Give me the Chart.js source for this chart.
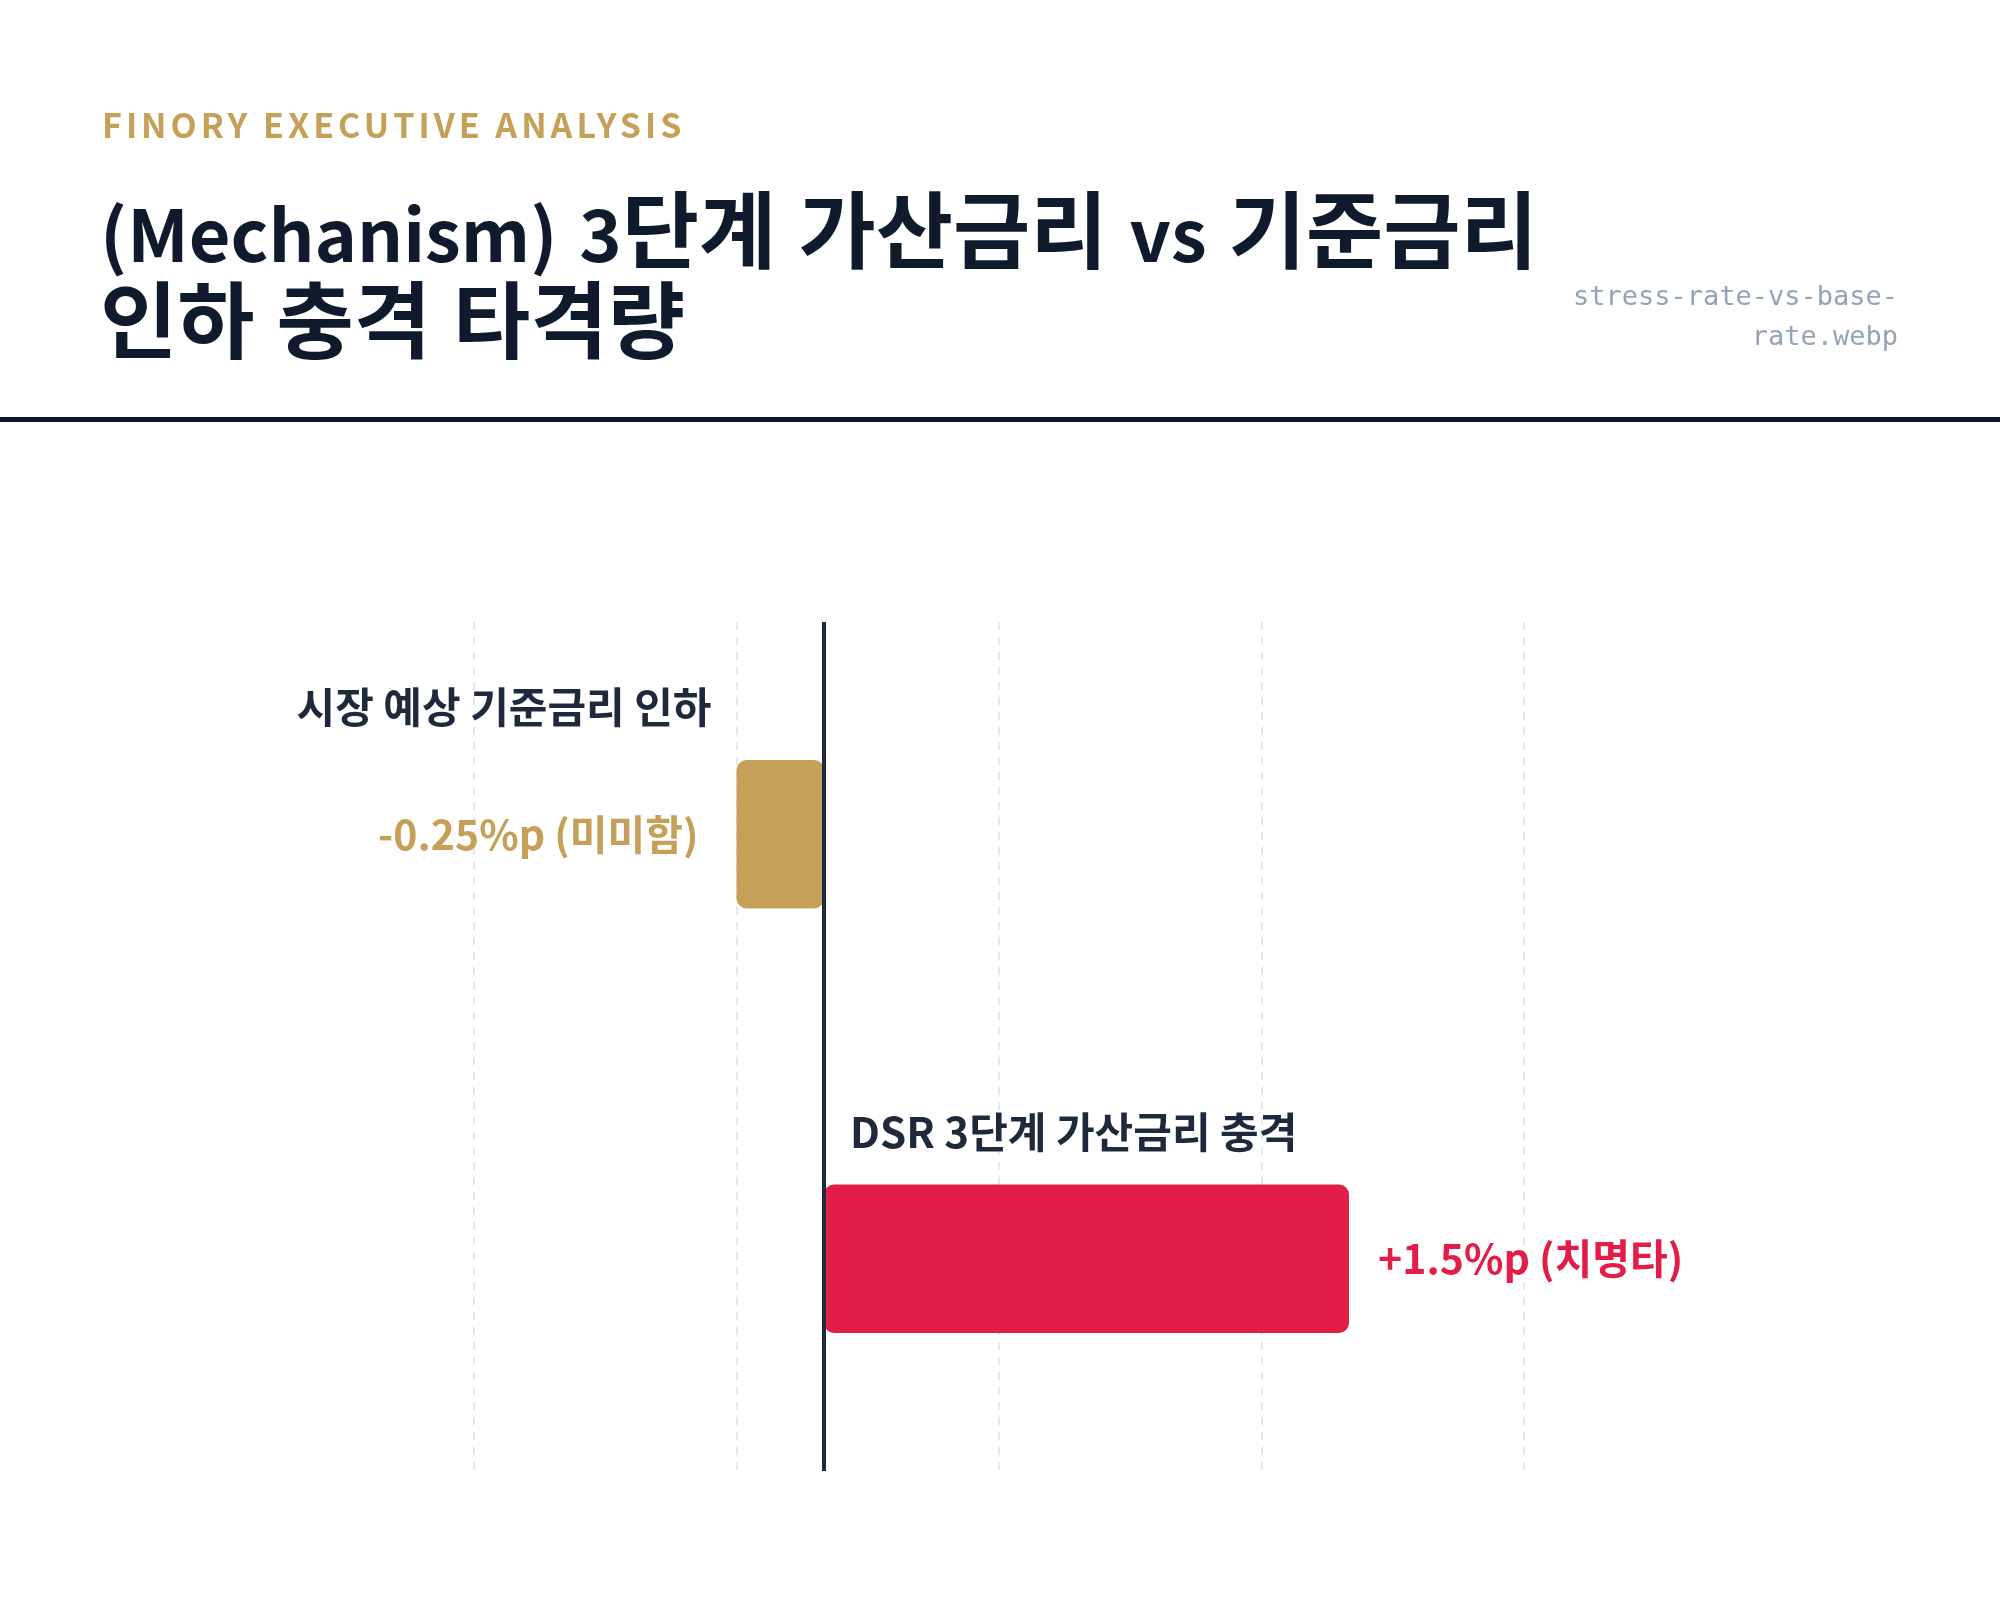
<!DOCTYPE html>
<html>
<head>
<meta charset="utf-8">
<script src="https://cdn.jsdelivr.net/npm/chart.js@4.4.1/dist/chart.umd.min.js"></script>
<style>
  html, body { margin: 0; padding: 0; background: #ffffff; }
  canvas { display: block; }
</style>
</head>
<body>
<canvas id="impactChart" width="2000" height="1622"></canvas>
<script>
// chart data
const categories = ['시장 예상 기준금리 인하', 'DSR 3단계 가산금리 충격'];
const values = [-0.25, 1.5];
const valueLabels = ['-0.25%p (미미함)', '+1.5%p (치명타)'];
const barColors = ['#c5a059', '#e11d48'];
const axisMin = -1;
const axisMax = 2;
const axisStep = 0.75;

const KR = '"Noto Sans CJK KR", "Noto Sans", sans-serif';

// draws hangul runs and latin runs with different sizes (title font has wide hangul)
function drawMixed(ctx, text, x, y, latinFont, hangulFont, spaceW) {
    const runs = text.match(/[\uAC00-\uD7A3]+| +|[^\uAC00-\uD7A3 ]+/g);
    runs.forEach(function (r) {
        if (r.trim() === '') {
            x += spaceW * r.length;
            return;
        }
        ctx.font = /[\uAC00-\uD7A3]/.test(r) ? hangulFont : latinFont;
        ctx.fillText(r, x, y);
        x += ctx.measureText(r).width;
    });
}

// header texts, title, filename and rule
const headerPlugin = {
    id: 'header',
    afterDraw(chart) {
        const ctx = chart.ctx;
        ctx.save();
        ctx.textBaseline = 'alphabetic';
        ctx.textAlign = 'left';

        ctx.fillStyle = '#c5a059';
        ctx.font = '700 34px ' + KR;
        ctx.letterSpacing = '4px';
        ctx.fillText('FINORY EXECUTIVE ANALYSIS', 102, 138);
        ctx.letterSpacing = '0px';

        ctx.fillStyle = '#0f1b2d';
        drawMixed(ctx, '(Mechanism) 3단계 가산금리 vs 기준금리', 100, 262, '700 72px ' + KR, '700 84px ' + KR, 22);
        drawMixed(ctx, '인하 충격 타격량', 100, 352, '700 72px ' + KR, '700 84px ' + KR, 22);

        ctx.fillStyle = '#94a3b8';
        ctx.font = '27px "DejaVu Sans Mono", monospace';
        ctx.textAlign = 'right';
        ctx.fillText('stress-rate-vs-base-', 1898, 305);
        ctx.fillText('rate.webp', 1898, 345);

        ctx.fillStyle = '#0b1a30';
        ctx.fillRect(0, 417, 2000, 5);
        ctx.restore();
    }
};

// dark line at zero
const zeroLinePlugin = {
    id: 'zeroLine',
    afterDatasetsDraw(chart) {
        const ctx = chart.ctx;
        const x = chart.scales.x.getPixelForValue(0);
        ctx.save();
        ctx.strokeStyle = '#1e293b';
        ctx.lineWidth = 4;
        ctx.beginPath();
        ctx.moveTo(x, chart.chartArea.top);
        ctx.lineTo(x, chart.chartArea.bottom);
        ctx.stroke();
        ctx.restore();
    }
};

// category name above each bar, value next to it
const barLabelsPlugin = {
    id: 'barLabels',
    afterDatasetsDraw(chart) {
        const ctx = chart.ctx;
        const meta = chart.getDatasetMeta(0);
        ctx.save();
        ctx.textBaseline = 'middle';
        meta.data.forEach(function (bar, i) {
            const neg = values[i] < 0;
            ctx.fillStyle = '#1e293b';
            ctx.font = '700 42px ' + KR;
            ctx.textAlign = neg ? 'right' : 'left';
            ctx.fillText(categories[i], neg ? bar.x - 25 : bar.base + 26, bar.y - 127);

            ctx.fillStyle = barColors[i];
            ctx.font = '700 41px ' + KR;
            ctx.fillText(valueLabels[i], neg ? bar.x - 38 : bar.x + 29, bar.y);
        });
        ctx.restore();
    }
};

const ctxImpact = document.getElementById('impactChart').getContext('2d');
const impactChart = new Chart(ctxImpact, {
    type: 'bar',
    data: {
        labels: categories,
        datasets: [{
            data: values,
            backgroundColor: barColors,
            borderRadius: 10,
            borderSkipped: false,
            categoryPercentage: 0.5,
            barPercentage: 0.7
        }]
    },
    options: {
        indexAxis: 'y',
        responsive: false,
        devicePixelRatio: 1,
        animation: false,
        layout: {
            padding: { left: 474, right: 476, top: 622, bottom: 151 }
        },
        scales: {
            x: {
                min: axisMin,
                max: axisMax,
                ticks: { display: false, stepSize: axisStep },
                grid: {
                    color: '#e2e8f0',
                    lineWidth: 2,
                    drawTicks: false
                },
                border: { display: false, dash: [8, 7] }
            },
            y: { display: false }
        },
        plugins: {
            legend: { display: false },
            tooltip: { enabled: false }
        }
    },
    plugins: [headerPlugin, zeroLinePlugin, barLabelsPlugin]
});
</script>
</body>
</html>
